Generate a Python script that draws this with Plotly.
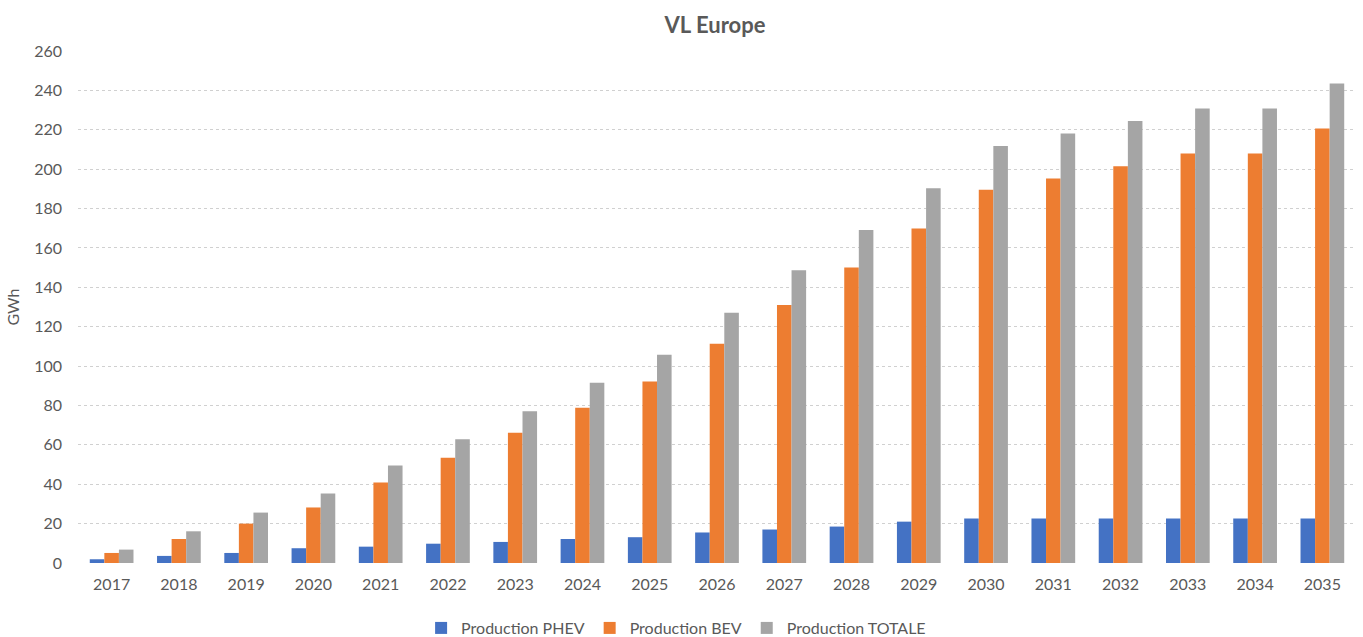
import plotly.graph_objects as go

years = [str(y) for y in range(2017, 2036)]
phev = [1.9, 3.6, 5.1, 7.5, 8.3, 9.8, 10.7, 12.2, 13.1, 15.5, 17.0, 18.5, 21.0, 22.6, 22.6, 22.6, 22.6, 22.6, 22.6]
bev = [5.1, 12.2, 20.0, 28.2, 40.9, 53.4, 66.1, 78.8, 92.2, 111.3, 131.0, 150.0, 169.8, 189.6, 195.2, 201.5, 207.9, 207.9, 220.6]
totale = [6.8, 16.1, 25.6, 35.3, 49.5, 62.9, 77.1, 91.5, 105.8, 127.1, 148.6, 169.1, 190.3, 211.8, 218.1, 224.4, 230.8, 230.8, 243.5]

series_names = ["Production PHEV", "Production BEV", "Production TOTALE"]
colors = ["#4472C4", "#ED7D31", "#A5A5A5"]

fig = go.Figure()
for name, vals, col in zip(series_names, [phev, bev, totale], colors):
    fig.add_trace(go.Bar(x=years, y=vals, name=name, marker=dict(color=col, line=dict(width=0))))

font_family = "Lato, 'Open Sans', sans-serif"
fig.update_layout(
    width=1363, height=637,
    barmode="group", bargap=0.35, bargroupgap=0,
    plot_bgcolor="white", paper_bgcolor="white",
    margin=dict(l=78, r=7, t=51, b=74, autoexpand=False),
    font=dict(family=font_family, size=16, color="#595959"),
    title=dict(text="<b>VL Europe</b>", x=0.5246, xanchor="center", y=0.96, yanchor="middle",
               font=dict(size=22, color="#595959", family=font_family)),
    legend=dict(orientation="h", x=0.468, xanchor="center", y=-0.127, yanchor="middle",
                font=dict(size=16, color="#595959"), traceorder="normal"),
    showlegend=True,
)
fig.update_xaxes(showgrid=False, showline=False, zeroline=False, ticks="",
                 ticklabelstandoff=10,
                 tickfont=dict(size=16, color="#595959"))
fig.update_yaxes(range=[0, 260], dtick=20, showgrid=True, gridcolor="#D0D0D0", griddash="dot",
                 gridwidth=1, zeroline=False, showline=False, ticklabelstandoff=15,
                 tickfont=dict(size=16, color="#595959"),
                 title=dict(text="GWh", font=dict(size=16, color="#595959"), standoff=10))

post = ("document.body.style.margin='0';document.body.style.overflow='hidden';"
        "var gd=document.getElementById('{plot_id}');Plotly.relayout(gd,{width:1363,height:637});")
fig.write_html("out.html", post_script=post, config={"displayModeBar": False})
